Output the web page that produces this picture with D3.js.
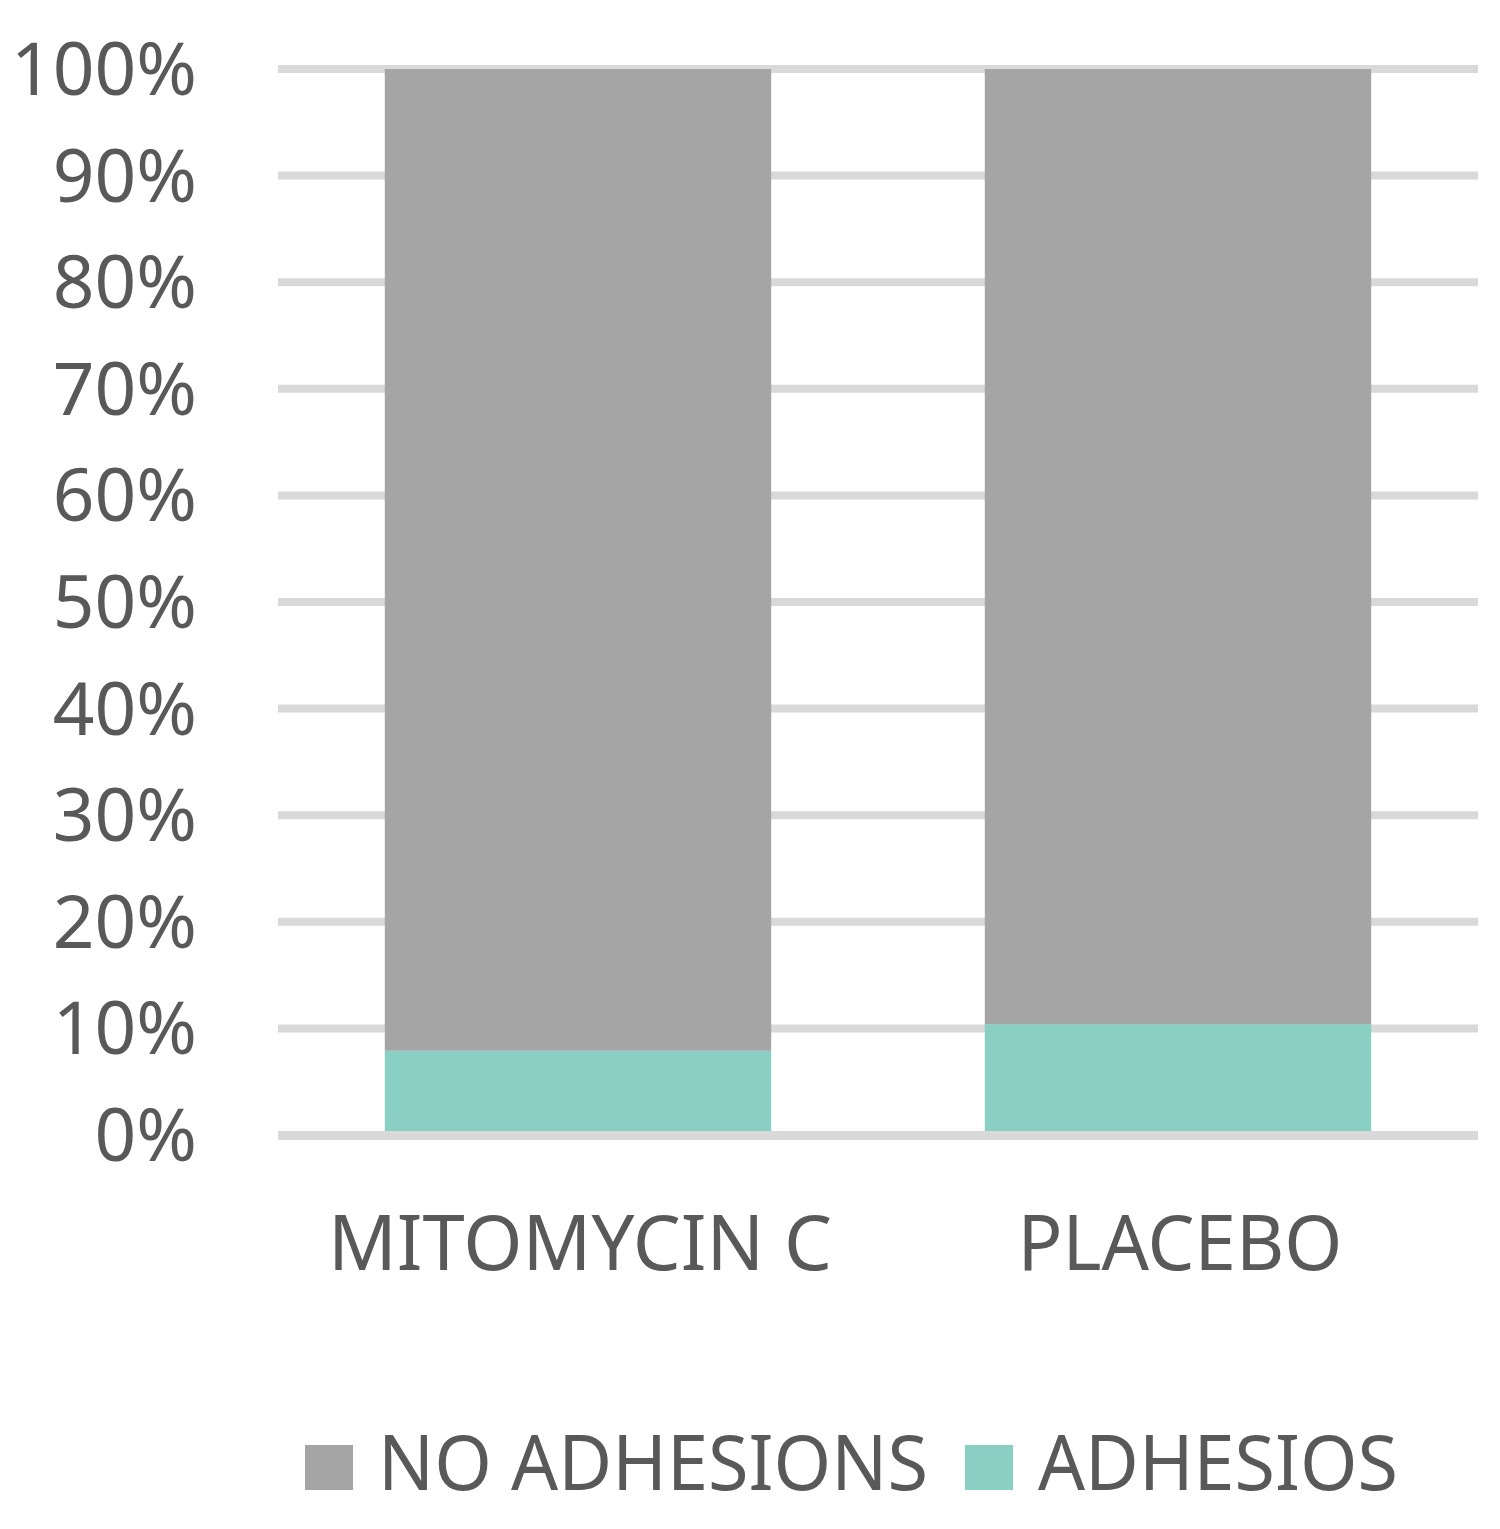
<!DOCTYPE html>
<html>
<head>
<meta charset="utf-8">
<script src="https://cdn.jsdelivr.net/npm/d3@7"></script>
<style>
  html, body { margin: 0; padding: 0; background: #fff; }
  svg { display: block; }
  text { font-family: "Noto Sans", "Liberation Sans", sans-serif; fill: #595959; }
</style>
</head>
<body>
<svg id="chart" width="1500" height="1529"></svg>
<script>
const categories = ["MITOMYCIN C", "PLACEBO"];
const seriesNames = ["ADHESIOS", "NO ADHESIONS"];
const adhesions = [0.079, 0.104];
const noAdhesions = [0.921, 0.896];
const tickValues = [0, 0.1, 0.2, 0.3, 0.4, 0.5, 0.6, 0.7, 0.8, 0.9, 1.0];
const tickLabels = ["0%", "10%", "20%", "30%", "40%", "50%", "60%", "70%", "80%", "90%", "100%"];
const legendLabels = ["NO ADHESIONS", "ADHESIOS"];

const colors = { "NO ADHESIONS": "#a5a5a5", "ADHESIOS": "#89cfc3" };

const svg = d3.select("#chart");

const x = d3.scaleBand().domain(categories).range([278, 1478])
  .paddingInner(0.356).paddingOuter(0.178);
const y = d3.scaleLinear().domain([0, 1]).range([1135, 69]);

const rows = categories.map((c, i) => ({ cat: c, "ADHESIOS": adhesions[i], "NO ADHESIONS": noAdhesions[i] }));
const stack = d3.stack().keys(seriesNames);
const stacked = stack(rows);

// gridlines (except baseline)
svg.append("g").selectAll("line")
  .data(tickValues.filter(v => v > 0))
  .join("line")
  .attr("x1", 278).attr("x2", 1478)
  .attr("y1", d => y(d)).attr("y2", d => y(d))
  .attr("stroke", "#d9d9d9").attr("stroke-width", 8);

// bars
svg.append("g").selectAll("g")
  .data(stacked)
  .join("g")
  .attr("fill", d => colors[d.key])
  .selectAll("rect")
  .data(d => d)
  .join("rect")
  .attr("x", d => x(d.data.cat))
  .attr("width", x.bandwidth())
  .attr("y", d => y(d[1]))
  .attr("height", d => y(d[0]) - y(d[1]));

// baseline over bars
svg.append("line")
  .attr("x1", 278).attr("x2", 1478)
  .attr("y1", y(0) + 0.5).attr("y2", y(0) + 0.5)
  .attr("stroke", "#d9d9d9").attr("stroke-width", 9);

// y tick labels
svg.append("g").selectAll("text")
  .data(tickValues)
  .join("text")
  .attr("x", 197)
  .attr("y", (d) => y(d) + 26)
  .attr("text-anchor", "end")
  .attr("font-size", 73)
  .text((d, i) => tickLabels[i]);

// category labels
const catWidths = { "MITOMYCIN C": 504, "PLACEBO": 325 };
svg.append("g").selectAll("text")
  .data(categories)
  .join("text")
  .attr("x", d => x(d) + x.bandwidth() / 2 - catWidths[d] / 2 + 2)
  .attr("y", 1270)
  .attr("font-size", 77)
  .attr("textLength", d => catWidths[d])
  .attr("lengthAdjust", "spacingAndGlyphs")
  .text(d => d);

// legend
const legendItems = [
  { label: legendLabels[0], sx: 305, tx: 378, tw: 550 },
  { label: legendLabels[1], sx: 965, tx: 1038, tw: 360 }
];
const lg = svg.append("g");
lg.selectAll("rect")
  .data(legendItems)
  .join("rect")
  .attr("x", d => d.sx).attr("y", 1445)
  .attr("width", 48).attr("height", 45)
  .attr("fill", d => colors[d.label]);
lg.selectAll("text")
  .data(legendItems)
  .join("text")
  .attr("x", d => d.tx).attr("y", 1490)
  .attr("font-size", 77)
  .attr("textLength", d => d.tw)
  .attr("lengthAdjust", "spacingAndGlyphs")
  .text(d => d.label);
</script>
</body>
</html>
